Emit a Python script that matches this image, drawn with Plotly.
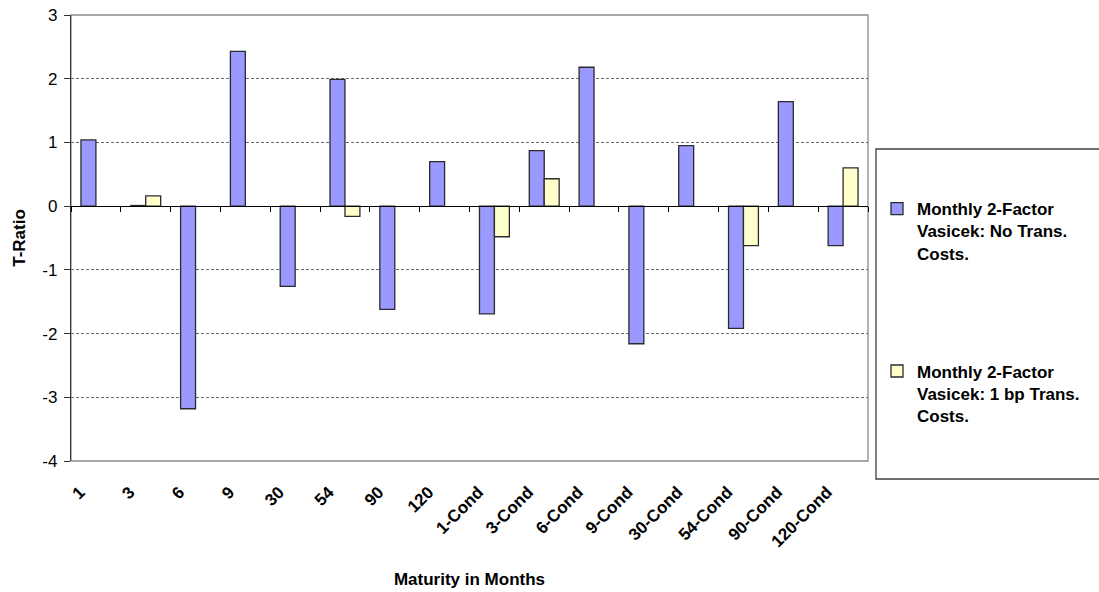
import plotly.graph_objects as go

# Maturity buckets (unconditional, then conditional)
categories = ["1", "3", "6", "9", "30", "54", "90", "120",
              "1-Cond", "3-Cond", "6-Cond", "9-Cond", "30-Cond", "54-Cond", "90-Cond", "120-Cond"]

# T-ratios, monthly 2-factor Vasicek, no transaction costs
t_no_costs = [1.04, 0.01, -3.18, 2.43, -1.26, 1.99, -1.62, 0.70,
              -1.69, 0.87, 2.18, -2.16, 0.95, -1.92, 1.64, -0.62]

# T-ratios, monthly 2-factor Vasicek, 1 bp transaction costs
t_1bp_costs = [None, 0.16, None, None, None, -0.16, None, None,
               -0.48, 0.43, None, None, None, -0.62, None, 0.60]

# value axis ticks, written with a plain hyphen
y_ticks = [-4, -3, -2, -1, 0, 1, 2, 3]
y_tick_text = ["-4", "-3", "-2", "-1", "0", "1", "2", "3"]

name_no_costs = "Monthly 2-Factor<br>Vasicek: No Trans.<br>Costs."
name_1bp_costs = "Monthly 2-Factor<br>Vasicek: 1 bp Trans.<br>Costs."

FONT = "Liberation Sans, Arial, sans-serif"

n = len(categories)

fig = go.Figure()
fig.add_trace(go.Bar(
    x=categories, y=t_no_costs, name=name_no_costs, legendgroup="a",
    marker=dict(color="#9999FF", line=dict(color="#2b2b2b", width=1.3)),
))
fig.add_trace(go.Bar(
    x=categories, y=t_1bp_costs, name=name_1bp_costs, legendgroup="b",
    marker=dict(color="#FFFFCC", line=dict(color="#2b2b2b", width=1.3)),
))
# invisible carrier so the bottom label axis gets drawn
fig.add_trace(go.Scatter(
    x=list(range(n)), y=t_no_costs, xaxis="x2", yaxis="y",
    mode="none", showlegend=False, hoverinfo="skip",
))

fig.update_layout(
    width=1099, height=592,
    margin=dict(l=71, r=231, t=15, b=131),
    paper_bgcolor="white", plot_bgcolor="white",
    barmode="group", bargap=0.4, bargroupgap=0,
    font=dict(family=FONT, size=16, color="black"),
    showlegend=True,
    legend=dict(
        x=1.0113, y=0.605, xanchor="left", yanchor="top",
        valign="top", tracegroupgap=93,
        font=dict(family=FONT, size=17, color="black", weight="bold"),
        bgcolor="rgba(0,0,0,0)", borderwidth=0,
    ),
    # category axis crossing at zero, ticks on category boundaries
    xaxis=dict(
        type="category", categoryorder="array", categoryarray=categories,
        range=[-0.5, n - 0.5], anchor="free", position=4 / 7,
        showline=True, linecolor="black", linewidth=1.3,
        ticks="outside", tickson="boundaries", ticklen=5, tickcolor="black",
        showticklabels=False, showgrid=False, zeroline=False, automargin=False,
    ),
    # tick labels along the bottom of the plot area
    xaxis2=dict(
        overlaying="x", anchor="y", side="bottom",
        range=[-0.5, n - 0.5], tickmode="array",
        tickvals=list(range(n)), ticktext=categories,
        tickangle=-45, ticks="", showline=False, showgrid=False, zeroline=False,
        tickfont=dict(family=FONT, size=17, color="black", weight="bold"),
        ticklabelstandoff=17, ticklabelshift=-16, automargin=False,
        title=dict(text="Maturity in Months", standoff=22,
                   font=dict(family=FONT, size=17, color="black", weight="bold")),
    ),
    yaxis=dict(
        range=[-4, 3], tickmode="array", tickvals=y_ticks, ticktext=y_tick_text,
        showline=True, linecolor="#333333", linewidth=1.3,
        ticks="outside", ticklen=6, tickcolor="#333333", ticklabelstandoff=3,
        showgrid=True, gridcolor="#6e6e6e", gridwidth=1, griddash="3px,2px",
        zeroline=True, zerolinecolor="black", zerolinewidth=1.3,
        tickfont=dict(family=FONT, size=17, color="black"),
        automargin=False,
        title=dict(text="T-Ratio", standoff=12,
                   font=dict(family=FONT, size=17, color="black", weight="bold")),
    ),
    shapes=[
        # plot area frame (top, right, bottom)
        dict(type="rect", xref="paper", yref="paper", x0=0, x1=1, y0=0, y1=1,
             line=dict(color="#8c8c8c", width=1.3), layer="below"),
        # legend frame
        dict(type="rect", xref="paper", yref="paper",
             x0=1.0100, x1=1.32, y0=-0.0404, y1=0.6996,
             line=dict(color="#404040", width=1.3), fillcolor="rgba(0,0,0,0)"),
    ],
)

fig.write_html("out.html")
